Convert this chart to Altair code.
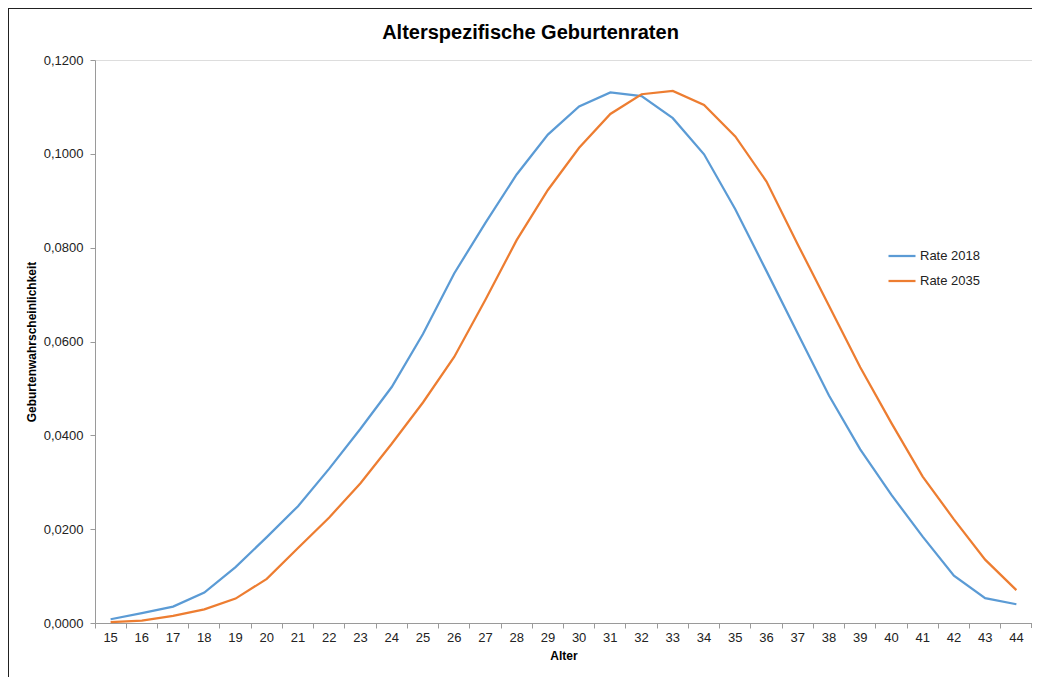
import altair as alt
import pandas as pd

ages = list(range(15, 45))
rate_2018 = [0.0008, 0.0021, 0.0035, 0.0065, 0.0119, 0.0183, 0.0249, 0.0329, 0.0414, 0.0503,
             0.0616, 0.0745, 0.0853, 0.0956, 0.1041, 0.1101, 0.1131, 0.1123, 0.1076, 0.0999,
             0.0882, 0.0750, 0.0617, 0.0485, 0.0370, 0.0273, 0.0184, 0.0101, 0.0053, 0.0040]
rate_2035 = [0.0002, 0.0005, 0.0015, 0.0029, 0.0052, 0.0094, 0.0160, 0.0225, 0.0298, 0.0382,
             0.0470, 0.0567, 0.0689, 0.0816, 0.0923, 0.1013, 0.1085, 0.1127, 0.1134, 0.1104,
             0.1037, 0.0941, 0.0807, 0.0676, 0.0545, 0.0426, 0.0312, 0.0221, 0.0135, 0.0070]
series_names = ["Rate 2018", "Rate 2035"]
colors = ["#5B9BD5", "#ED7D31"]
y_ticks = [0.0, 0.02, 0.04, 0.06, 0.08, 0.10, 0.12]

rows = []
for a, v in zip(ages, rate_2018):
    rows.append({"Alter": a, "Rate": v, "Serie": series_names[0]})
for a, v in zip(ages, rate_2035):
    rows.append({"Alter": a, "Rate": v, "Serie": series_names[1]})
df = pd.DataFrame(rows)

W, H = 937, 563
FONT = "Liberation Sans"

lines = alt.Chart(df).mark_line(strokeWidth=2.25).encode(
    x=alt.X("Alter:O", bandPosition=0.5,
            scale=alt.Scale(type="band", paddingInner=0, paddingOuter=0),
            axis=alt.Axis(title="Alter", labelAngle=0, bandPosition=0, tickSize=5,
                          labelFontSize=13, labelPadding=3, labelColor="#222",
                          titleFontSize=12, titleFontWeight="bold", titlePadding=6,
                          titleColor="#000", domainColor="#9a9a9a", tickColor="#9a9a9a",
                          labelFont=FONT, titleFont=FONT)),
    y=alt.Y("Rate:Q", scale=alt.Scale(domain=[0, 0.12], nice=False, zero=True),
            axis=alt.Axis(title="Geburtenwahrscheinlichkeit", values=y_ticks, grid=False,
                          labelExpr="replace(format(datum.value, '.4f'), '.', ',')",
                          tickSize=5, labelFontSize=13, labelPadding=7, labelColor="#222",
                          titleFontSize=12, titleFontWeight="bold", titlePadding=5,
                          titleColor="#000", domainColor="#9a9a9a", tickColor="#9a9a9a",
                          labelFont=FONT, titleFont=FONT)),
    color=alt.Color("Serie:N", scale=alt.Scale(domain=series_names, range=colors),
                    legend=alt.Legend(title=None, orient="none", legendX=792, legendY=181,
                                      symbolType="stroke", symbolSize=729, symbolStrokeWidth=2.25,
                                      labelFontSize=13, labelFont=FONT, labelColor="#222",
                                      rowPadding=3, labelOffset=3)),
)

end_tick = alt.Chart(df).mark_rule(color="#9a9a9a").encode(
    x=alt.value(W), y=alt.value(H), y2=alt.value(H + 5))

frame_left = alt.Chart(df).mark_rule(color="#222", strokeWidth=1.5).encode(
    x=alt.value(-87), y=alt.value(-52), y2=alt.value(H + 80))
frame_top = alt.Chart(df).mark_rule(color="#222", strokeWidth=1.5).encode(
    x=alt.value(-87), x2=alt.value(W + 20), y=alt.value(-52))

chart = alt.layer(lines, end_tick, frame_left, frame_top).properties(
    width=W, height=H,
    title=alt.TitleParams("Alterspezifische Geburtenraten", fontSize=20, font=FONT,
                          fontWeight="bold", color="#000", anchor="middle", dx=-33, offset=-36),
    autosize=alt.AutoSizeParams(type="none"),
    padding={"left": 87, "top": 52, "right": 0, "bottom": 60},
).configure_view(stroke=None).configure(background="white")

chart.save("out.html", embed_options={"renderer": "svg", "actions": False})
